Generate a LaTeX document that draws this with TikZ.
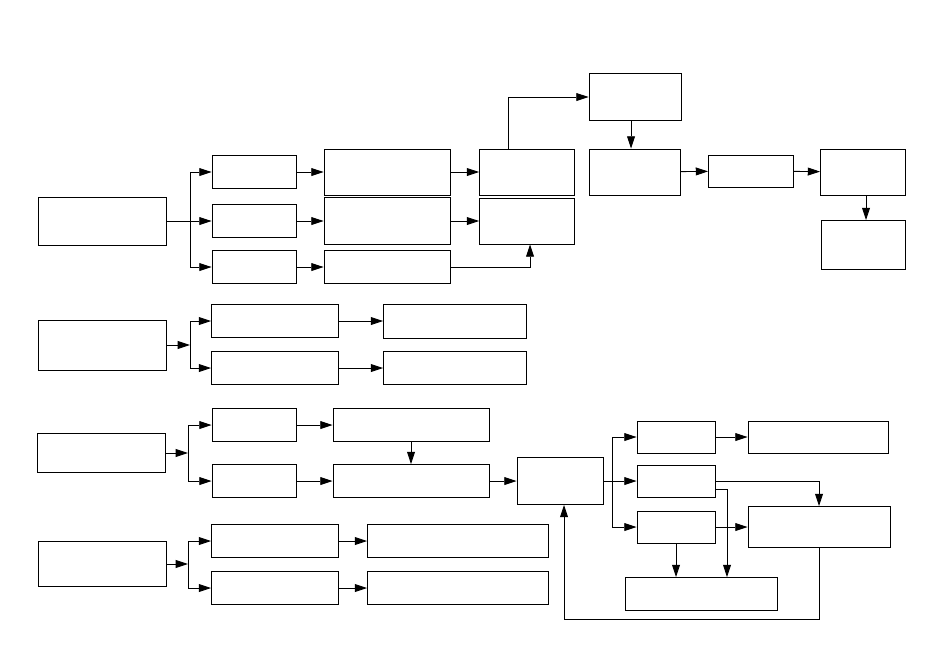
\documentclass[tikz,border=0pt]{standalone}
\usepackage{tikz}
\usetikzlibrary{arrows.meta}

\begin{document}
\begin{tikzpicture}[x=0.02cm,y=-0.02cm,>={Triangle[length=7pt,width=4.5pt]},line width=0.5pt,
        blk/.style 2 args={draw,inner sep=0pt,minimum width=#1*0.02cm,minimum height=#2*0.02cm}]
        \useasboundingbox (0,0) rectangle (950,656);

        \node[blk={128}{48}] (a1) at (102,221) {};
        \node[blk={84}{33}] (b1) at (254,172) {};
        \node[blk={84}{33}] (b2) at (254,221) {};
        \node[blk={84}{33}] (b3) at (254,267) {};
        \node[blk={126}{46}] (c1) at (387,172) {};
        \node[blk={126}{47}] (c2) at (387,221) {};
        \node[blk={126}{33}] (c3) at (387,267) {};
        \node[blk={95}{46}] (d1) at (527,172) {};
        \node[blk={95}{46}] (d2) at (527,221) {};
        \node[blk={92}{47}] (e1) at (635,97) {};
        \node[blk={91}{46}] (e2) at (635,172) {};
        \node[blk={85}{32}] (f1) at (751,171) {};
        \node[blk={85}{46}] (g1) at (863,172) {};
        \node[blk={84}{49}] (h1) at (863,245) {};

        \node[blk={128}{50}] (a2) at (102,345) {};
        \node[blk={127}{33}] (b4) at (275,321) {};
        \node[blk={127}{33}] (b5) at (275,368) {};
        \node[blk={143}{34}] (c4) at (455,321) {};
        \node[blk={143}{33}] (c5) at (455,368) {};

        \node[blk={128}{39}] (a3) at (101,453) {};
        \node[blk={84}{33}] (b6) at (254,425) {};
        \node[blk={84}{33}] (b7) at (254,481) {};
        \node[blk={156}{33}] (c6) at (411,425) {};
        \node[blk={156}{33}] (c7) at (411,481) {};
        \node[blk={86}{47}] (j1) at (560,481) {};
        \node[blk={78}{32}] (k1) at (676,437) {};
        \node[blk={78}{32}] (k2) at (676,481) {};
        \node[blk={78}{32}] (k3) at (676,527) {};
        \node[blk={140}{32}] (l1) at (818,437) {};
        \node[blk={142}{41}] (l2) at (819,527) {};
        \node[blk={152}{33}] (m1) at (701,594) {};

        \node[blk={128}{45}] (a4) at (102,564) {};
        \node[blk={127}{33}] (b8) at (275,541) {};
        \node[blk={127}{33}] (b9) at (275,588) {};
        \node[blk={181}{33}] (c8) at (458,541) {};
        \node[blk={181}{33}] (c9) at (458,588) {};

        \coordinate (fk1) at (190,221);
        \coordinate (fk2) at (190,345);
        \coordinate (fk3) at (188,453);
        \coordinate (fk4) at (188,564);
        \coordinate (fk5) at (612,481);

        \draw (a1) -- (fk1);
        \draw[->] (fk1) |- (b1);
        \draw[->] (fk1) -- (b2);
        \draw[->] (fk1) |- (b3);
        \draw[->] (b1) -- (c1);
        \draw[->] (b2) -- (c2);
        \draw[->] (b3) -- (c3);
        \draw[->] (c1) -- (d1);
        \draw[->] (c2) -- (d2);
        \draw[->] (c3) -| ([xshift=0.06cm]d2.south);
        \draw[->] ([xshift=-0.38cm]d1.north) |- (e1);
        \draw[->] ([xshift=-0.08cm]e1.south) -- ([xshift=-0.08cm]e2.north);
        \draw[->] (e2) -- (f1);
        \draw[->] (f1) -- (g1);
        \draw[->] ([xshift=0.06cm]g1.south) -- ([xshift=0.06cm]h1.north);

        \draw[->] (a2) -- (fk2);
        \draw[->] (fk2) |- (b4);
        \draw[->] (fk2) |- (b5);
        \draw[->] (b4) -- (c4);
        \draw[->] (b5) -- (c5);

        \draw[->] (a3) -- (fk3);
        \draw[->] (fk3) |- (b6);
        \draw[->] (fk3) |- (b7);
        \draw[->] (b6) -- (c6);
        \draw[->] (b7) -- (c7);
        \draw[->] (c6) -- (c7);
        \draw[->] (c7) -- (j1);
        \draw[->] (j1) -- (k2);
        \draw[->] (fk5) |- (k1);
        \draw[->] (fk5) |- (k3);
        \draw[->] (k1) -- (l1);
        \draw[->] (k2) -| (l2);
        \draw[->] ([yshift=0.16cm]k2.south east) -| ([xshift=0.52cm]m1.north);
        \draw[->] (k3) -- (l2);
        \draw[->] (k3) -- (k3 |- m1.north);
        \draw[->] (l2.south) -- ++(0,71) -| ([xshift=0.08cm]j1.south);

        \draw[->] (a4) -- (fk4);
        \draw[->] (fk4) |- (b8);
        \draw[->] (fk4) |- (b9);
        \draw[->] (b8) -- (c8);
        \draw[->] (b9) -- (c9);
\end{tikzpicture}
\end{document}
